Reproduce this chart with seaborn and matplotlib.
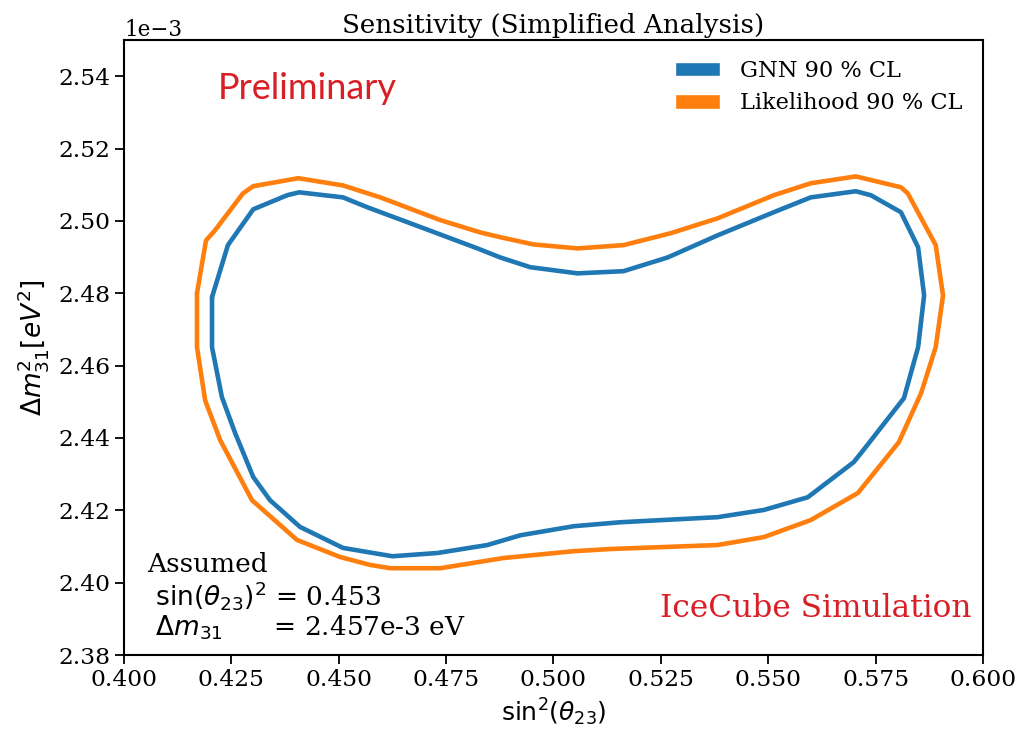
import pandas as pd
import matplotlib.pyplot as plt
import seaborn as sns
from matplotlib.patches import Patch

# Contour vertices (x = sin^2(theta23), y = dm31^2 in 1e-3 eV^2)
gnn_x = [0.4205, 0.4242, 0.4301, 0.4380, 0.4408, 0.4510, 0.4566, 0.4697, 0.4823, 0.4876,
         0.4946, 0.5056, 0.5163, 0.5266, 0.5382, 0.5513, 0.5599, 0.5704, 0.5739, 0.5809,
         0.5849, 0.5863, 0.5849, 0.5816, 0.5716, 0.5699, 0.5592, 0.5490, 0.5382, 0.5156,
         0.5047, 0.4923, 0.4846, 0.4730, 0.4625, 0.4510, 0.4410, 0.4340, 0.4301, 0.4259,
         0.4228, 0.4205, 0.4205]
gnn_y = [2.4789, 2.4933, 2.5032, 2.5071, 2.5079, 2.5065, 2.5038, 2.4980, 2.4924, 2.4899,
         2.4872, 2.4855, 2.4861, 2.4899, 2.4960, 2.5024, 2.5065, 2.5082, 2.5071, 2.5024,
         2.4927, 2.4794, 2.4651, 2.4510, 2.4358, 2.4333, 2.4236, 2.4201, 2.4181, 2.4167,
         2.4156, 2.4131, 2.4104, 2.4082, 2.4073, 2.4096, 2.4154, 2.4228, 2.4292, 2.4413,
         2.4513, 2.4651, 2.4789]

llh_x = [0.4170, 0.4191, 0.4212, 0.4277, 0.4301, 0.4406, 0.4510, 0.4597, 0.4737, 0.4830,
         0.4876, 0.4953, 0.5056, 0.5163, 0.5273, 0.5382, 0.5513, 0.5599, 0.5704, 0.5809,
         0.5825, 0.5890, 0.5907, 0.5890, 0.5856, 0.5804, 0.5709, 0.5599, 0.5490, 0.5382,
         0.5133, 0.5047, 0.4883, 0.4737, 0.4620, 0.4573, 0.4503, 0.4403, 0.4298, 0.4224,
         0.4189, 0.4170, 0.4170]
llh_y = [2.4800, 2.4946, 2.4974, 2.5076, 2.5096, 2.5118, 2.5098, 2.5065, 2.5002, 2.4968,
         2.4955, 2.4935, 2.4924, 2.4933, 2.4966, 2.5007, 2.5071, 2.5104, 2.5123, 2.5093,
         2.5076, 2.4933, 2.4794, 2.4651, 2.4524, 2.4388, 2.4248, 2.4173, 2.4126, 2.4104,
         2.4093, 2.4087, 2.4068, 2.4040, 2.4040, 2.4049, 2.4071, 2.4118, 2.4228, 2.4394,
         2.4504, 2.4651, 2.4800]

labels = ['GNN 90 % CL', 'Likelihood 90 % CL']
colors = ['#1f77b4', '#ff7f0e']

df = pd.concat([
    pd.DataFrame({'x': gnn_x, 'y': [v * 1e-3 for v in gnn_y], 'Source': labels[0]}),
    pd.DataFrame({'x': llh_x, 'y': [v * 1e-3 for v in llh_y], 'Source': labels[1]}),
], ignore_index=True)

sns.set_style('ticks')
plt.rcParams['font.family'] = ['DejaVu Serif']
plt.rcParams['mathtext.fontset'] = 'dejavusans'
plt.rcParams['text.color'] = 'black'
plt.rcParams['axes.labelcolor'] = 'black'
plt.rcParams['xtick.color'] = 'black'
plt.rcParams['ytick.color'] = 'black'

fig = plt.figure(figsize=(10.22, 7.33), dpi=100)
ax = fig.add_axes([0.1213, 0.1064, 0.8405, 0.839])

sns.lineplot(data=df, x='x', y='y', hue='Source', units='Source', estimator=None,
             sort=False, palette=colors, linewidth=3.3, legend=False, ax=ax)

ax.set_xlim(0.4, 0.6)
ax.set_ylim(2.38e-3, 2.55e-3)
ax.set_xticks([0.4, 0.425, 0.45, 0.475, 0.5, 0.525, 0.55, 0.575, 0.6])
ax.set_yticks([2.38e-3, 2.40e-3, 2.42e-3, 2.44e-3, 2.46e-3, 2.48e-3, 2.50e-3, 2.52e-3, 2.54e-3])
ax.xaxis.set_major_formatter(plt.FormatStrFormatter('%.3f'))
ax.ticklabel_format(axis='y', style='sci', scilimits=(0, 0))
ax.yaxis.get_offset_text().set_fontsize(15.5)
ax.tick_params(labelsize=16.8, length=6.5, width=1.3)
for s in ax.spines.values():
    s.set_linewidth(1.5)
    s.set_color('black')

ax.set_title('Sensitivity (Simplified Analysis)', fontsize=18.8, pad=5)
ax.set_xlabel(r'$\mathrm{sin}^2(\theta_{23})$', fontsize=18, labelpad=4)
ax.set_ylabel(r'$\Delta m^2_{31} [eV^2]$', fontsize=19, labelpad=5)

handles = [Patch(facecolor=c, label=l) for c, l in zip(colors, labels)]
ax.legend(handles=handles, loc='upper right', frameon=False, fontsize=16.2,
          handlelength=2.0, handleheight=0.6, handletextpad=0.9,
          borderaxespad=0.5, labelspacing=0.45)

ax.text(0.4219, 2.5366e-3, 'Preliminary', color='#d91f26', fontsize=26,
        family=['Lato', 'DejaVu Sans'], va='center', ha='left')
ax.text(0.987, 0.076, 'IceCube Simulation', color='#d91f26', fontsize=22.5,
        transform=ax.transAxes, va='center', ha='right')
ax.text(0.4054, 2.3835e-3,
        'Assumed\n $\\mathrm{sin}(\\theta_{23})^2$ = 0.453\n $\\Delta m_{31}$      = 2.457e-3 eV',
        fontsize=19, va='bottom', ha='left', linespacing=1.08)

plt.savefig('out.png', dpi=100)
